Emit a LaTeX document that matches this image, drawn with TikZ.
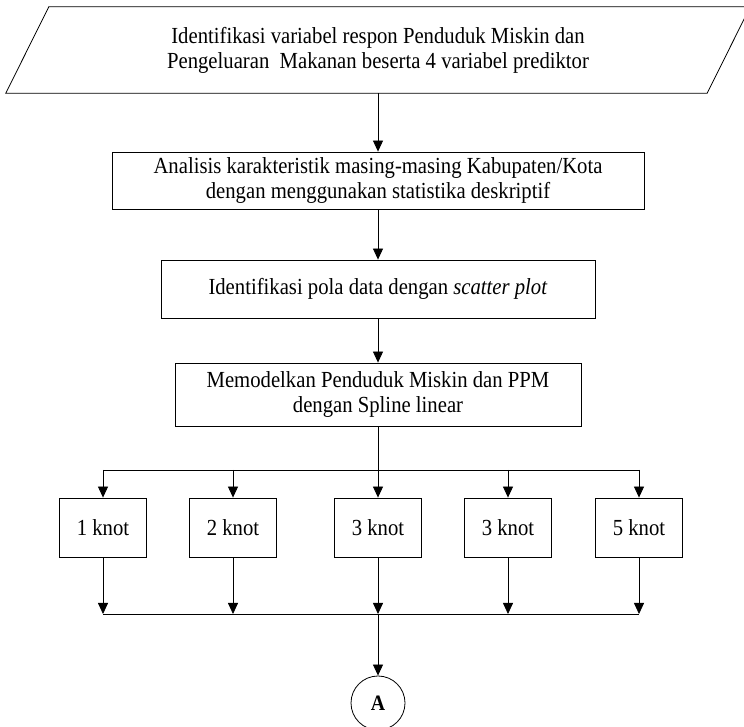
\documentclass[tikz,border=0pt]{standalone}
\usepackage{fontspec}
\setmainfont{Liberation Serif}[FakeStretch=0.9]
\usetikzlibrary{arrows.meta,positioning}
\tikzset{
  line/.style={line width=0.8pt},
  box/.style={draw, line, align=center, inner sep=0pt},
  knotbox/.style={box, minimum width=87pt, minimum height=59pt},
  arr/.style={line, -{Triangle[length=11pt,width=10pt]}}
}
\begin{document}
\begin{tikzpicture}[x=1pt,y=1pt,font=\fontsize{23}{25}\selectfont]
    \useasboundingbox (0,0) rectangle (744,727);
    % input data
    \node[align=center, inner sep=0pt, minimum width=744pt, minimum height=86pt] (input) at (378,677)
      {Identifikasi variabel respon Penduduk Miskin dan\\Pengeluaran~ Makanan beserta 4 variabel prediktor};
    \draw[line] ([xshift=43pt]input.north west) -- (input.north east)
      -- ([xshift=-43pt]input.south east) -- (input.south west) -- cycle;
    \node[box, minimum width=532pt, minimum height=57pt] (analisis) at (378,546.5)
      {Analisis karakteristik masing-masing Kabupaten/Kota\\dengan menggunakan statistika deskriptif};
    \node[box, minimum width=434pt, minimum height=58pt] (pola) at (378,438)
      {Identifikasi pola data dengan \textit{scatter plot}};
    \node[box, minimum width=406pt, minimum height=63pt] (model) at (378,332.5)
      {Memodelkan Penduduk Miskin dan PPM\\dengan Spline linear};
    % knots
    \node[knotbox] (k1) at (103,199.5) {1 knot};
    \node[knotbox] (k2) at (233,199.5) {2 knot};
    \node[knotbox] (k3) at (378,199.5) {3 knot};
    \node[knotbox] (k4) at (508,199.5) {3 knot};
    \node[knotbox] (k5) at (639,199.5) {5 knot};
    \node[draw, line, circle, inner sep=0pt, minimum size=54pt, font=\fontsize{22}{25}\selectfont\bfseries] (conA) at (378,24) {A};
    \coordinate (split) at (378,257);
    \coordinate (join) at (378,113);
    % connectors
    \draw[arr] (input.south) -- (analisis.north);
    \draw[arr] (analisis.south) -- (pola.north);
    \draw[arr] (pola.south) -- (model.north);
    \draw[line] (model.south) -- (split);
    \draw[line] (split -| k1) -- (split -| k5);
    \draw[line] (join -| k1) -- (join -| k5);
    \foreach \k in {k1,k2,k3,k4,k5} {
      \draw[arr] (split -| \k) -- (\k.north);
      \draw[arr] (\k.south) -- (join -| \k);
    }
    \draw[arr] (join) -- (conA.north);
\end{tikzpicture}
\end{document}
